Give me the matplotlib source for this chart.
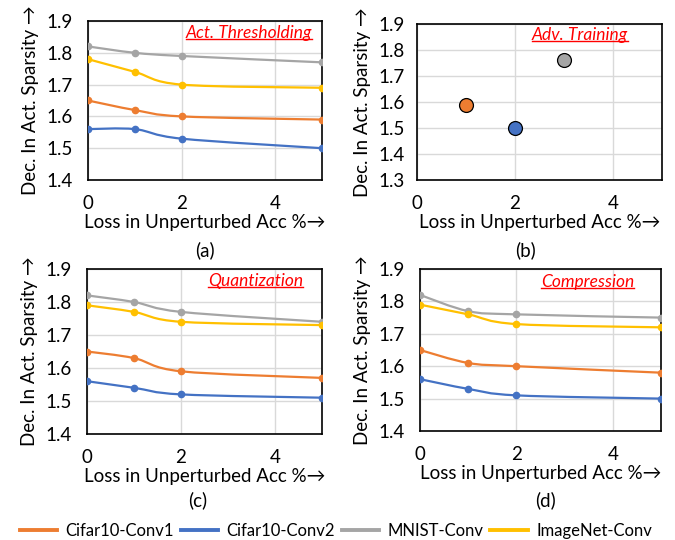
import numpy as np
import matplotlib
matplotlib.use("Agg")
import matplotlib.pyplot as plt
from matplotlib.path import Path
from matplotlib.patches import PathPatch
from matplotlib.lines import Line2D

plt.rcParams['font.family'] = ['Lato', 'DejaVu Sans']

series_names = ["Cifar10-Conv1", "Cifar10-Conv2", "MNIST-Conv", "ImageNet-Conv"]
colors = ["#ED7D31", "#4472C4", "#A5A5A5", "#FFC000"]
x_loss = [0, 1, 2, 5]

thresh_conv1 = [1.65, 1.62, 1.60, 1.59]
thresh_conv2 = [1.56, 1.56, 1.53, 1.50]
thresh_mnist = [1.82, 1.80, 1.79, 1.77]
thresh_imagenet = [1.78, 1.74, 1.70, 1.69]

quant_conv1 = [1.65, 1.63, 1.59, 1.57]
quant_conv2 = [1.56, 1.54, 1.52, 1.51]
quant_mnist = [1.82, 1.80, 1.77, 1.74]
quant_imagenet = [1.79, 1.77, 1.74, 1.73]

comp_conv1 = [1.65, 1.61, 1.60, 1.58]
comp_conv2 = [1.56, 1.53, 1.51, 1.50]
comp_mnist = [1.82, 1.77, 1.76, 1.75]
comp_imagenet = [1.79, 1.76, 1.73, 1.72]

adv_x = [1, 2, 3]
adv_y = [1.59, 1.50, 1.76]
adv_names = ["Cifar10-Conv1", "Cifar10-Conv2", "MNIST-Conv"]

fig = plt.figure(figsize=(6.75, 5.4), dpi=100)

FS = 13.5
LEG_FS = 12


def smooth_line(ax, xs, ys, color):
    # Excel-style smoothed line: Catmull-Rom converted to cubic Bezier
    xs = np.asarray(xs, float)
    ys = np.asarray(ys, float)
    n = len(xs)
    verts = [(xs[0], ys[0])]
    codes = [Path.MOVETO]
    t = 1.0 / 6.0
    for i in range(n - 1):
        p0 = (xs[max(i - 1, 0)], ys[max(i - 1, 0)])
        p1 = (xs[i], ys[i])
        p2 = (xs[i + 1], ys[i + 1])
        p3 = (xs[min(i + 2, n - 1)], ys[min(i + 2, n - 1)])
        c1 = (p1[0] + (p2[0] - p0[0]) * t, p1[1] + (p2[1] - p0[1]) * t)
        c2 = (p2[0] - (p3[0] - p1[0]) * t, p2[1] - (p3[1] - p1[1]) * t)
        verts += [c1, c2, p2]
        codes += [Path.CURVE4] * 3
    patch = PathPatch(Path(verts, codes), facecolor='none', edgecolor=color,
                      lw=1.6, transform=ax.transData, zorder=3)
    ax.add_patch(patch)
    ax.plot(xs, ys, linestyle='none', marker='o', ms=4.5, color=color, zorder=4)


def style_axes(ax, ylo, yhi, label, lx, ly):
    ax.set_xlim(0, 5)
    ax.set_ylim(ylo, yhi)
    ax.set_xticks([0, 2, 4])
    ax.set_yticks(np.round(np.arange(ylo, yhi + 0.001, 0.1), 1))
    ax.set_yticklabels([f"{v:.1f}" for v in np.arange(ylo, yhi + 0.001, 0.1)])
    ax.grid(True, color="#D9D9D9", lw=1.0)
    ax.set_axisbelow(True)
    ax.tick_params(length=0, labelsize=FS)
    ax.tick_params(axis='x', pad=11)
    ax.tick_params(axis='y', pad=11)
    for s in ax.spines.values():
        s.set_color("black")
        s.set_linewidth(1.2)
    ax.set_xlabel("Loss in Unperturbed Acc %→", fontsize=FS, labelpad=1)
    ax.set_ylabel("Dec. In Act. Sparsity →", fontsize=FS, labelpad=5)
    t = ax.text(lx, ly, label, transform=ax.transAxes, ha='right', va='center',
                color="#FF0000", fontsize=12.5, style='italic', zorder=6)
    return t


axes_specs = {
    'a': [88 / 675, 1 - 180 / 540, 234 / 675, 159 / 540],
    'b': [417 / 675, 1 - 180 / 540, 245 / 675, 156 / 540],
    'c': [87 / 675, 1 - 434 / 540, 235 / 675, 165 / 540],
    'd': [420 / 675, 1 - 431 / 540, 241 / 675, 162 / 540],
}

titles = []

ax_a = fig.add_axes(axes_specs['a'])
for ys, c in zip([thresh_conv1, thresh_conv2, thresh_mnist, thresh_imagenet], colors):
    smooth_line(ax_a, x_loss, ys, c)
titles.append(style_axes(ax_a, 1.4, 1.9, "Act. Thresholding", 0.957, 0.925))

ax_b = fig.add_axes(axes_specs['b'])
for xv, yv, c in zip(adv_x, adv_y, colors[:3]):
    ax_b.plot([xv], [yv], linestyle='none', marker='o', ms=10, color=c,
              markeredgecolor='black', markeredgewidth=0.9, zorder=4)
titles.append(style_axes(ax_b, 1.3, 1.9, "Adv. Training", 0.861, 0.93))
ax_b.tick_params(axis='y', pad=9)

ax_c = fig.add_axes(axes_specs['c'])
for ys, c in zip([quant_conv1, quant_conv2, quant_mnist, quant_imagenet], colors):
    smooth_line(ax_c, x_loss, ys, c)
titles.append(style_axes(ax_c, 1.4, 1.9, "Quantization", 0.919, 0.927))

ax_d = fig.add_axes(axes_specs['d'])
for ys, c in zip([comp_conv1, comp_conv2, comp_mnist, comp_imagenet], colors):
    smooth_line(ax_d, x_loss, ys, c)
titles.append(style_axes(ax_d, 1.4, 1.9, "Compression", 0.888, 0.92))

# panel captions
fig.text(205 / 675, 1 - 250 / 540, "(a)", ha='center', va='center', fontsize=FS)
fig.text(525 / 675, 1 - 250 / 540, "(b)", ha='center', va='center', fontsize=FS)
fig.text(198 / 675, 1 - 500 / 540, "(c)", ha='center', va='center', fontsize=FS)
fig.text(545 / 675, 1 - 500 / 540, "(d)", ha='center', va='center', fontsize=FS)

# legend
handles = [Line2D([0], [0], color=c, lw=2.8) for c in colors]
fig.legend(handles, series_names, loc='center', bbox_to_anchor=(336 / 675, 1 - 531 / 540),
           ncol=4, frameon=False, fontsize=LEG_FS, handlelength=2.25, columnspacing=0.4,
           handletextpad=0.5, borderpad=0, borderaxespad=0)

# underline the red titles
fig.canvas.draw()
renderer = fig.canvas.get_renderer()
inv = fig.transFigure.inverted()
for t in titles:
    bb = t.get_window_extent(renderer)
    (x0, y0), (x1, y1) = inv.transform([(bb.x0, bb.y0), (bb.x1, bb.y1)])
    yl = y0 + (y1 - y0) * 0.1
    fig.add_artist(Line2D([x0, x1], [yl, yl], color="#FF0000", lw=1.0,
                          transform=fig.transFigure))

fig.savefig("out.png", dpi=100)
